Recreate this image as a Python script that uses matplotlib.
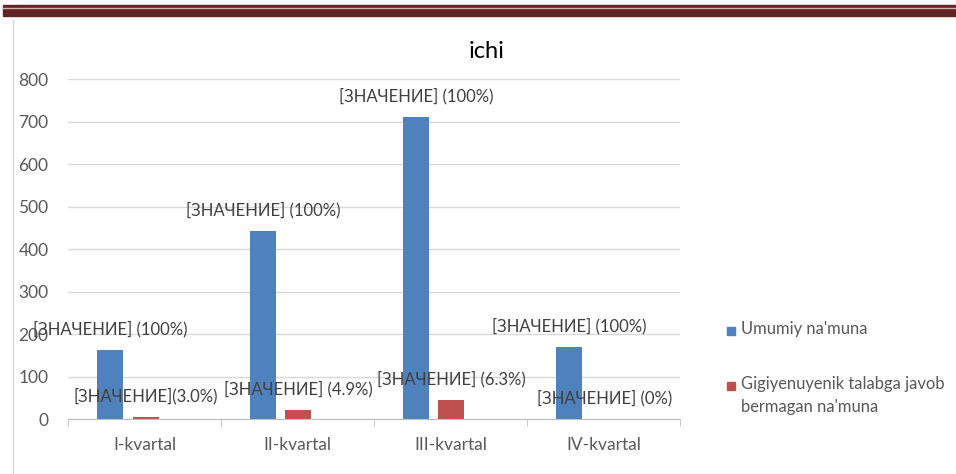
import numpy as np
import matplotlib.pyplot as plt
from matplotlib.lines import Line2D
from matplotlib.patches import Rectangle

plt.rcParams['font.family'] = ['Lato', 'DejaVu Sans']

categories = ["I-kvartal", "II-kvartal", "III-kvartal", "IV-kvartal"]
total = [162, 442, 711, 169]
failed = [5, 22, 45, 0]
total_labels = ["[ЗНАЧЕНИЕ] (100%)"] * 4
failed_labels = ["[ЗНАЧЕНИЕ](3.0%)", "[ЗНАЧЕНИЕ] (4.9%)", "[ЗНАЧЕНИЕ] (6.3%)", "[ЗНАЧЕНИЕ] (0%)"]
series_names = ["Umumiy na'muna", "Gigiyenuyenik talabga javob\nbermagan na'muna"]

blue = "#4F81BD"
red = "#C0504D"
grey_text = "#595959"

fig = plt.figure(figsize=(9.56, 4.74), dpi=100)
ax = fig.add_axes([0.0711, 0.116, 0.640, 0.717])

x = np.arange(len(categories))
w = 0.17
b1 = ax.bar(x - 0.222, total, w, color=blue, label=series_names[0])
b2 = ax.bar(x + 0.007, failed, w, color=red, label=series_names[1])

for rect, lab in zip(b1, total_labels):
    ax.annotate(lab, (rect.get_x() + rect.get_width() / 2, rect.get_height()),
                xytext=(0, 15), textcoords="offset points", ha="center", va="center",
                fontsize=12, color="#404040")
for rect, lab in zip(b2, failed_labels):
    ax.annotate(lab, (rect.get_x() + rect.get_width() / 2, rect.get_height()),
                xytext=(0, 15), textcoords="offset points", ha="center", va="center",
                fontsize=12, color="#404040")

ax.set_xlim(-0.5, 3.5)
ax.set_ylim(0, 800)
ax.set_yticks(range(0, 801, 100))
ax.set_xticks(x)
ax.set_xticklabels(categories)
ax.set_xticks(np.arange(-0.5, 3.6, 1), minor=True)
ax.tick_params(axis="x", which="major", length=0, pad=13, labelsize=12.5, labelcolor=grey_text)
ax.tick_params(axis="x", which="minor", length=5, color="#bfbfbf")
ax.tick_params(axis="y", length=0, pad=14, labelsize=12.5, labelcolor=grey_text)
ax.grid(axis="y", color="#d9d9d9", linewidth=1)
ax.set_axisbelow(True)
for s in ["top", "right", "left"]:
    ax.spines[s].set_visible(False)
ax.spines["bottom"].set_color("#bfbfbf")

fig.text(487 / 956, 1 - 52 / 474, "ichi", ha="center", va="center", fontsize=17, color="black")

# legend at the right, square level with the first text line
W, H = 956, 474
for name, color, ypx in zip(series_names, [blue, red], [331, 386]):
    fig.patches.append(Rectangle((727 / W, 1 - (ypx + 4) / H), 8 / W, 8 / H,
                                 transform=fig.transFigure, color=color))
    for i, line in enumerate(name.split("\n")):
        fig.text(741 / W, 1 - (ypx - 2 + 23 * i) / H, line, ha="left", va="center",
                 fontsize=11.9, color=grey_text)

# decorative header band and chart border
fig.patches.append(Rectangle((0.003, 1 - 16 / 474), 1, 11 / 474, transform=fig.transFigure,
                             color="#632523", zorder=5))
fig.lines.append(Line2D([0.003, 1], [1 - 7.5 / 474] * 2, transform=fig.transFigure,
                        color="#d8b0ae", linewidth=1, zorder=6))
fig.lines.append(Line2D([13 / 956, 13 / 956], [0, 1 - 20 / 474], transform=fig.transFigure,
                        color="#d9d9d9", linewidth=1))

fig.savefig("out.png", dpi=100)
